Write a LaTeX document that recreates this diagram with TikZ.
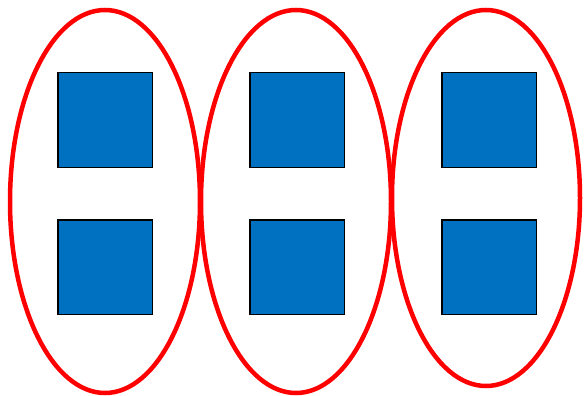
\documentclass[tikz,border=0pt]{standalone}
\usepackage{tikz}
\usepackage{xcolor}
\definecolor{boxblue}{RGB}{0,112,192}
\tikzset{
  ring/.style={line width=4.5pt,draw=red},
  cell/.style={rectangle,fill=boxblue,draw=black,line width=1.5pt,minimum size=94.5pt,inner sep=0pt}
}
\begin{document}
\begin{tikzpicture}[x=1pt,y=-1pt]
  \useasboundingbox (0,0) rectangle (584,396);
  \coordinate (E1) at (105,201.5);
  \coordinate (E2) at (296,201.5);
  \coordinate (E3) at (486,198);

  \draw[ring] (E1) ellipse (95pt and 191.5pt);
  \draw[ring] (E2) ellipse (95pt and 191.5pt);
  \draw[ring] (E3) ellipse (94pt and 188pt);

  \node[cell] (a1) at (105,120) {};
  \node[cell] (a2) at (105,267) {};
  \node[cell] (b1) at (297,120) {};
  \node[cell] (b2) at (297,267) {};
  \node[cell] (c1) at (489,120) {};
  \node[cell] (c2) at (489,267) {};
\end{tikzpicture}
\end{document}
